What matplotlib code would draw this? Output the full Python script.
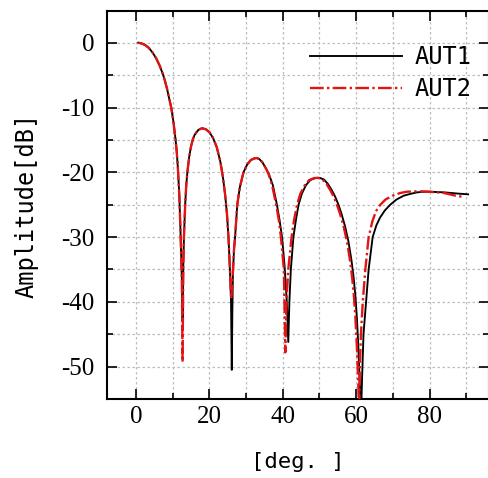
import matplotlib
matplotlib.use("Agg")
import matplotlib.pyplot as plt
from matplotlib.ticker import MultipleLocator

plt.rcParams['axes.unicode_minus'] = False

# AUT1 (solid black)
ang_aut1 = [0.6, 1.5, 2.5, 3.5, 4.5, 5.5, 6.5, 7.3, 7.9, 8.5, 9.0, 9.6, 10.2, 10.8,
            11.1, 11.4, 11.8, 12.1, 12.5, 12.7, 12.9, 13.1, 13.4, 13.7, 14.0, 14.5,
            15.0, 15.5, 16.0, 17.0, 18.0, 19.0, 20.0, 21.0, 22.0, 23.0, 23.7, 24.3,
            24.8, 25.2, 25.6, 25.9, 26.1, 26.25, 26.4, 26.7, 27.0, 27.6, 28.3, 29.3,
            30.3, 31.3, 32.3, 32.9, 33.6, 34.5, 35.5, 36.3, 37.3, 38.4, 39.1, 39.8,
            40.5, 41.1, 41.5, 41.8, 42.2, 42.9, 43.6, 44.3, 45.2, 46.3, 47.5, 48.8,
            50.0, 51.2, 52.3, 53.4, 54.3, 55.1, 56.0, 57.0, 57.9, 58.7, 59.3, 59.8,
            60.2, 60.6, 61.0, 61.3, 61.6, 62.0, 62.7, 63.4, 64.5, 65.5, 66.5, 67.8,
            69.3, 71.0, 73.0, 75.0, 76.6, 78.5, 80.0, 82.0, 84.0, 86.0, 88.0, 90.5]
amp_aut1 = [0.0, -0.1, -0.35, -0.8, -1.5, -2.4, -3.6, -4.8, -5.9, -7.2, -8.5, -10.0,
            -12.2, -15.0, -16.8, -19.2, -23.5, -28.5, -36.5, -43.0, -34.0, -29.5,
            -25.0, -22.0, -20.0, -17.6, -16.0, -14.9, -14.2, -13.45, -13.2, -13.35,
            -13.8, -14.7, -16.1, -18.4, -20.8, -23.5, -26.5, -30.0, -35.0, -40.0,
            -50.5, -42.0, -36.0, -32.0, -30.0, -25.0, -22.3, -20.0, -18.8, -18.1,
            -17.85, -17.8, -17.95, -18.5, -19.5, -20.4, -22.0, -25.0, -27.3, -30.0,
            -34.5, -40.0, -46.2, -40.0, -35.0, -30.0, -27.3, -25.0, -23.3, -22.0,
            -21.2, -20.9, -20.85, -21.1, -21.8, -22.8, -23.8, -24.9, -26.4, -28.4,
            -30.7, -33.5, -36.2, -39.2, -42.5, -47.0, -53.0, -58.0, -52.0, -45.0,
            -40.0, -35.0, -30.0, -28.2, -27.0, -25.9, -25.0, -24.2, -23.6, -23.3,
            -23.1, -23.0, -23.0, -23.05, -23.1, -23.2, -23.3, -23.4]

# AUT2 (red dash-dot)
ang_aut2 = [0.6, 1.5, 2.5, 3.5, 4.5, 5.5, 6.5, 7.3, 7.9, 8.5, 9.0, 9.6, 10.2, 10.8,
            11.1, 11.4, 11.8, 12.1, 12.5, 12.7, 12.9, 13.1, 13.4, 13.7, 14.0, 14.5,
            15.0, 15.5, 16.0, 17.0, 18.0, 19.0, 20.0, 21.0, 22.0, 23.0, 23.7, 24.3,
            24.8, 25.2, 25.6, 25.95, 26.3, 26.7, 27.0, 27.6, 28.3, 29.3, 30.3, 31.3,
            32.3, 32.9, 33.6, 34.5, 35.5, 36.2, 37.1, 38.2, 38.9, 39.5, 40.3, 40.7,
            41.0, 41.5, 42.4, 43.1, 43.9, 44.8, 46.0, 47.2, 48.5, 49.6, 50.8, 51.9,
            53.0, 53.9, 54.7, 55.6, 56.6, 57.5, 58.3, 58.9, 59.4, 59.8, 60.2, 60.6,
            60.8, 61.0, 61.3, 61.8, 62.5, 63.4, 64.4, 65.4, 66.6, 68.0, 70.0, 72.0,
            73.8, 76.0, 78.0, 80.0, 82.0, 84.0, 85.5, 87.0, 88.0, 89.2]
amp_aut2 = [0.0, -0.1, -0.35, -0.8, -1.5, -2.4, -3.6, -4.8, -5.9, -7.2, -8.5, -10.0,
            -12.2, -15.0, -16.8, -19.2, -23.5, -28.5, -36.5, -49.3, -34.0, -29.5,
            -25.0, -22.0, -20.0, -17.6, -16.0, -14.9, -14.2, -13.45, -13.2, -13.35,
            -13.8, -14.7, -16.1, -18.4, -20.8, -23.5, -26.5, -30.0, -35.0, -39.5,
            -36.5, -32.0, -30.0, -25.0, -22.3, -20.0, -18.8, -18.1, -17.85, -17.8,
            -17.95, -18.5, -19.5, -20.4, -22.0, -25.0, -27.3, -30.0, -35.0, -47.8,
            -40.0, -35.0, -30.0, -27.3, -25.0, -23.3, -22.0, -21.2, -20.9, -20.85,
            -21.1, -21.8, -22.8, -23.8, -24.9, -26.4, -28.4, -30.7, -33.5, -36.2,
            -39.2, -42.5, -47.0, -53.0, -58.0, -50.0, -45.0, -40.0, -35.0, -30.0,
            -27.6, -26.0, -25.0, -24.2, -23.6, -23.2, -23.0, -22.95, -22.95, -23.0,
            -23.1, -23.2, -23.4, -23.6, -23.7, -23.8]

fig = plt.figure(figsize=(4.88, 4.78), dpi=100)
ax = fig.add_axes([107 / 488, 1 - 399 / 478, 382 / 488, 388 / 478])

ax.plot(ang_aut1, amp_aut1, color='black', lw=1.35, label='AUT1', zorder=3)
ax.plot(ang_aut2, amp_aut2, color='#e31414', lw=1.7, dashes=(5.8, 1.4, 1.0, 1.4),
        label='AUT2', zorder=4)

ax.set_xlim(-7.9, 96.2)
ax.set_ylim(-55.0, 4.9)

ax.xaxis.set_major_locator(MultipleLocator(20))
ax.xaxis.set_minor_locator(MultipleLocator(10))
ax.yaxis.set_major_locator(MultipleLocator(10))
ax.yaxis.set_minor_locator(MultipleLocator(5))

ax.grid(True, which='both', color='#bdbdbd', lw=0.9, linestyle=(0, (2, 2)), zorder=0)

ax.tick_params(which='both', direction='in', top=True, right=True, width=1.2,
               labelsize=18)
ax.tick_params(which='major', length=7)
ax.tick_params(which='minor', length=4)
ax.tick_params(axis='x', pad=5)
ax.tick_params(axis='y', pad=9)
for lab in ax.get_xticklabels() + ax.get_yticklabels():
    lab.set_fontfamily('Liberation Serif')

for sp in ax.spines.values():
    sp.set_linewidth(1.5)

ax.set_xlabel('[deg. ]', fontfamily='DejaVu Sans Mono', fontsize=16, labelpad=17)
ax.set_ylabel('Amplitude[dB]', fontfamily='DejaVu Sans Mono', fontsize=17, labelpad=16)

ax.legend(loc='upper left', bbox_to_anchor=(310 / 488, 1 - 45 / 478),
          bbox_transform=fig.transFigure, frameon=False, borderpad=0,
          borderaxespad=0, handlelength=3.9, handletextpad=0.55, labelspacing=0.35,
          prop={'family': 'DejaVu Sans Mono', 'size': 17})

fig.savefig('out.png', dpi=100)
